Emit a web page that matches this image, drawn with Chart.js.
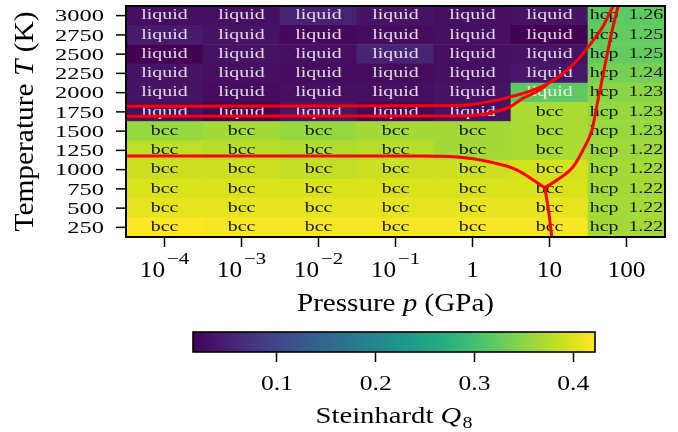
<!DOCTYPE html>
<html>
<head>
<meta charset="utf-8">
<script src="https://cdn.jsdelivr.net/npm/chart.js@4.4.1/dist/chart.umd.min.js"></script>
<style>
  html, body { margin: 0; padding: 0; background: #fff; overflow: hidden; }
  #wrap { position: relative; width: 678px; height: 432px; }
  #main { position: absolute; left: 0; top: 0; }
  #cbar { position: absolute; left: 0; top: 318px; }
</style>
</head>
<body>
<div id="wrap">
  <canvas id="main" width="678" height="318"></canvas>
  <canvas id="cbar" width="678" height="114"></canvas>
</div>
<script>
// ---- data ---------------------------------------------------------------
const pressureLabels = ['1e-4', '1e-3', '1e-2', '1e-1', '1', '10', '100']; // GPa
const tickBase = ['10', '10', '10', '10', '1', '10', '100'];
const tickExp  = ['\u22124', '\u22123', '\u22122', '\u22121', '', '', ''];
const temperatures = [250, 500, 750, 1000, 1250, 1500, 1750, 2000, 2250, 2500, 2750, 3000]; // K

// Steinhardt Q8 per temperature, one value per pressure column
const q8_250K  = [0.422, 0.418, 0.418, 0.418, 0.418, 0.418, 0.365];
const q8_500K  = [0.406, 0.406, 0.406, 0.406, 0.406, 0.406, 0.365];
const q8_750K  = [0.398, 0.398, 0.398, 0.398, 0.398, 0.398, 0.365];
const q8_1000K = [0.389, 0.389, 0.385, 0.389, 0.389, 0.394, 0.365];
const q8_1250K = [0.381, 0.377, 0.373, 0.377, 0.365, 0.369, 0.361];
const q8_1500K = [0.357, 0.365, 0.357, 0.365, 0.365, 0.369, 0.357];
const q8_1750K = [0.031, 0.019, 0.039, 0.023, 0.035, 0.369, 0.357];
const q8_2000K = [0.035, 0.027, 0.031, 0.031, 0.035, 0.320, 0.349];
const q8_2250K = [0.035, 0.031, 0.027, 0.027, 0.031, 0.039, 0.337];
const q8_2500K = [0.015, 0.035, 0.031, 0.056, 0.031, 0.035, 0.324];
const q8_2750K = [0.043, 0.035, 0.023, 0.027, 0.031, 0.015, 0.324];
const q8_3000K = [0.031, 0.031, 0.052, 0.035, 0.031, 0.035, 0.320];
const q8 = [q8_250K, q8_500K, q8_750K, q8_1000K, q8_1250K, q8_1500K,
            q8_1750K, q8_2000K, q8_2250K, q8_2500K, q8_2750K, q8_3000K];

// identified phase per cell
const solidRow = ['bcc', 'bcc', 'bcc', 'bcc', 'bcc', 'bcc', 'hcp'];
const mixedRow = ['liquid', 'liquid', 'liquid', 'liquid', 'liquid', 'bcc', 'hcp'];
const meltRow  = ['liquid', 'liquid', 'liquid', 'liquid', 'liquid', 'liquid', 'hcp'];
const phases = [solidRow, solidRow, solidRow, solidRow, solidRow, solidRow,
                mixedRow, meltRow, meltRow, meltRow, meltRow, meltRow];

// c/a ratio of the hcp cells (100 GPa column)
const hcpRatio = [1.22, 1.22, 1.22, 1.22, 1.22, 1.23, 1.23, 1.23, 1.24, 1.25, 1.25, 1.26];

const colorbarTicks = [0.1, 0.2, 0.3, 0.4];

// phase boundaries: log10(p / GPa) and T (K)
const meltUpperLogP = [-4.6, -2.0, -0.94, -0.12, 0.23, 0.49, 0.75, 0.97, 1.20, 1.40, 1.55, 1.69, 1.825, 1.87];
const meltUpperT    = [1822, 1826, 1830, 1836, 1885, 1945, 2021, 2112, 2268, 2463, 2657, 2852, 3125, 3220];
const meltLowerLogP = [-4.6, -0.9, -0.1, 0.2, 0.49, 0.66, 0.79, 0.90, 0.97];
const meltLowerT    = [1694, 1696, 1700, 1730, 1817, 1930, 1990, 2050, 2112];
const bccHcpLogP = [0.94, 1.136, 1.305, 1.435, 1.552, 1.617, 1.682, 1.747, 1.812, 1.890, 1.916];
const bccHcpT    = [765, 891, 1034, 1255, 1515, 1839, 2164, 2489, 2800, 3125, 3255];
const lowTLogP = [-4.6, -0.7, -0.2, 0.23, 0.58, 0.75, 0.94];
const lowTT    = [1177, 1177, 1165, 1099, 995, 891, 765];
const highPLogP = [0.94, 0.99, 1.03, 1.06];
const highPT    = [765, 450, 125, -100];

// ---- helpers --------------------------------------------------------------
const SERIF = '"Liberation Serif", "Times New Roman", serif';
const viridisStops = ['#440154', '#48186a', '#472d7b', '#424086', '#3b528b', '#33638d',
  '#2c728e', '#26828e', '#21918c', '#1fa088', '#28ae80', '#3fbc73', '#5ec962',
  '#84d44b', '#addc30', '#d8e219', '#fde725'];
function hexRgb(h) { return [1, 3, 5].map(i => parseInt(h.slice(i, i + 2), 16)); }
function viridis(t) {
  const n = viridisStops.length - 1;
  const s = Math.min(1, Math.max(0, t)) * n;
  const i = Math.min(Math.floor(s), n - 1), f = s - i;
  const a = hexRgb(viridisStops[i]), b = hexRgb(viridisStops[i + 1]);
  return 'rgb(' + a.map((v, k) => Math.round(v + (b[k] - v) * f)).join(',') + ')';
}
function fontOf(r) { return (r.style ? r.style + ' ' : '') + r.size + 'px ' + SERIF; }

// a sequence of text runs ({t, size, style, sx, dy, gap}) sharing one baseline
function runsWidth(ctx, runs) {
  let w = 0;
  for (const r of runs) {
    ctx.font = fontOf(r);
    w += (r.gap || 0) + ctx.measureText(r.t).width * (r.sx || 1);
  }
  return w;
}
function drawRuns(ctx, runs, x, y, align, color) {
  ctx.save();
  const w = runsWidth(ctx, runs);
  let cx = align === 'center' ? x - w / 2 : align === 'right' ? x - w : x;
  ctx.fillStyle = color || '#000';
  ctx.textAlign = 'left';
  ctx.textBaseline = 'alphabetic';
  for (const r of runs) {
    ctx.font = fontOf(r);
    cx += r.gap || 0;
    const sx = r.sx || 1;
    const adv = ctx.measureText(r.t).width * sx;
    ctx.save();
    ctx.translate(cx, y + (r.dy || 0));
    ctx.scale(sx, 1);
    ctx.fillText(r.t, 0, 0);
    ctx.restore();
    cx += adv;
  }
  ctx.restore();
}
function fitRuns(ctx, runs, target) {
  ctx.save();
  const k = target / runsWidth(ctx, runs);
  ctx.restore();
  return runs.map(r => Object.assign({}, r, { sx: (r.sx || 1) * k, gap: (r.gap || 0) * k }));
}

const allQ = q8.flat();
const qMin = Math.min(...allQ), qMax = Math.max(...allQ);
const tStep = temperatures[1] - temperatures[0];

// ---- heat map ---------------------------------------------------------------
const cellSets = temperatures.map((T, r) => ({
  type: 'bar',
  label: T + ' K',
  data: pressureLabels.map(() => [T - tStep / 2, T + tStep / 2]),
  backgroundColor: q8[r].map(v => viridis((v - qMin) / (qMax - qMin))),
  borderWidth: 0,
  barPercentage: 1,
  categoryPercentage: 1,
  grouped: false,
  order: 2
}));

const boundarySets = [
  [meltUpperLogP, meltUpperT], [meltLowerLogP, meltLowerT],
  [bccHcpLogP, bccHcpT], [lowTLogP, lowTT], [highPLogP, highPT]
].map(([ps, ts]) => ({
  type: 'line',
  xAxisID: 'xl',
  data: ps.map((p, i) => ({ x: p, y: ts[i] })),
  borderColor: '#ff0000',
  borderWidth: 3,
  pointRadius: 0,
  fill: false,
  cubicInterpolationMode: 'monotone',
  clip: 0,
  order: 1
}));

function drawCellText(chart) {
  const ctx = chart.ctx;
  temperatures.forEach((T, r) => {
    const meta = chart.getDatasetMeta(r);
    pressureLabels.forEach((p, c) => {
      const el = meta.data[c];
      const cx = el.x, cy = (el.y + el.base) / 2;
      const ph = phases[r][c];
      const txt = ph === 'hcp' ? 'hcp  ' + hcpRatio[r].toFixed(2) : ph;
      const col = ph === 'liquid' ? 'rgba(255,255,255,0.85)' : 'rgba(0,0,0,0.9)';
      drawRuns(ctx, [{ t: txt, size: 14, sx: 1.42 }], cx, cy + 3.8, 'center', col);
    });
  });
}

const heatText = {
  id: 'heatText',
  beforeDatasetsDraw(chart) { chart.$cellTextDone = false; },
  beforeDatasetDraw(chart, args) {
    if (args.meta.type === 'line' && !chart.$cellTextDone) {
      drawCellText(chart);
      chart.$cellTextDone = true;
    }
  },
  afterDatasetsDraw(chart) {
    if (!chart.$cellTextDone) { drawCellText(chart); chart.$cellTextDone = true; }
  }
};

const axisDecor = {
  id: 'axisDecor',
  afterDraw(chart) {
    const ctx = chart.ctx, a = chart.chartArea;
    const xs = chart.scales.x, ys = chart.scales.y;
    // frame
    ctx.save();
    ctx.strokeStyle = '#000';
    ctx.lineWidth = 2;
    ctx.strokeRect(a.left, a.top, a.right - a.left, a.bottom - a.top);
    // temperature tick marks and labels
    ctx.lineWidth = 1.5;
    temperatures.forEach(T => {
      const y = ys.getPixelForValue(T);
      ctx.beginPath();
      ctx.moveTo(a.left - 10, y);
      ctx.lineTo(a.left, y);
      ctx.stroke();
      ctx.save();
      ctx.font = fontOf({ size: 17.5 });
      ctx.fillStyle = '#000';
      ctx.textAlign = 'right';
      ctx.textBaseline = 'alphabetic';
      ctx.translate(a.left - 22, y + 5.8);
      ctx.scale(1.4, 1);
      ctx.fillText(String(T), 0, 0);
      ctx.restore();
    });
    ctx.restore();
    // pressure tick labels with exponents
    pressureLabels.forEach((p, i) => {
      const runs = [{ t: tickBase[i], size: 23, sx: 1.1 }];
      if (tickExp[i]) runs.push({ t: tickExp[i], size: 16, sx: 1.3, dy: -13, gap: 2 });
      drawRuns(ctx, runs, xs.getPixelForValue(i), 277, 'center');
    });
    // x title
    const xt = fitRuns(ctx, [
      { t: 'Pressure ', size: 25 }, { t: 'p', size: 25, style: 'italic' }, { t: ' (GPa)', size: 25 }
    ], 197);
    drawRuns(ctx, xt, (a.left + a.right) / 2, 311, 'center');
    // y title
    const yt = fitRuns(ctx, [
      { t: 'Temperature ', size: 27 }, { t: 'T', size: 27, style: 'italic' }, { t: ' (K)', size: 27 }
    ], 220);
    ctx.save();
    ctx.translate(33, (a.top + a.bottom) / 2);
    ctx.rotate(-Math.PI / 2);
    drawRuns(ctx, yt, 0, 0, 'center');
    ctx.restore();
  }
};

new Chart(document.getElementById('main'), {
  type: 'bar',
  data: { labels: pressureLabels, datasets: [...cellSets, ...boundarySets] },
  options: {
    responsive: false,
    animation: false,
    events: [],
    layout: { padding: { top: 6, right: 13, left: 0, bottom: 0 } },
    plugins: { legend: { display: false }, tooltip: { enabled: false } },
    scales: {
      x: {
        type: 'category',
        offset: true,
        border: { display: false },
        grid: { offset: false, drawOnChartArea: false, drawTicks: true, tickLength: 10, tickColor: '#000', tickWidth: 1.5 },
        ticks: { display: false },
        afterFit: s => { s.height = 81; }
      },
      xl: { type: 'linear', display: false, offset: false, min: -4.5, max: 2.5 },
      y: {
        type: 'linear',
        min: temperatures[0] - tStep / 2,
        max: temperatures[temperatures.length - 1] + tStep / 2,
        border: { display: false },
        grid: { display: false },
        ticks: { display: false },
        afterBuildTicks: s => { s.ticks = temperatures.map(v => ({ value: v })); },
        afterFit: s => { s.width = 126; }
      }
    }
  },
  plugins: [heatText, axisDecor]
});

// ---- colour bar ---------------------------------------------------------------
const colorbarDecor = {
  id: 'colorbarDecor',
  beforeDatasetsDraw(chart) {
    const ctx = chart.ctx, a = chart.chartArea, xs = chart.scales.x;
    const x0 = xs.getPixelForValue(qMin), x1 = xs.getPixelForValue(qMax);
    const g = ctx.createLinearGradient(x0, 0, x1, 0);
    viridisStops.forEach((c, i) => g.addColorStop(i / (viridisStops.length - 1), c));
    ctx.save();
    ctx.fillStyle = g;
    ctx.fillRect(x0, a.top, x1 - x0, a.bottom - a.top);
    ctx.restore();
  },
  afterDraw(chart) {
    const ctx = chart.ctx, a = chart.chartArea, xs = chart.scales.x;
    ctx.save();
    ctx.strokeStyle = '#000';
    ctx.lineWidth = 1.6;
    ctx.strokeRect(a.left, a.top, a.right - a.left, a.bottom - a.top);
    ctx.restore();
    colorbarTicks.forEach(v => {
      drawRuns(ctx, [{ t: v.toFixed(1), size: 20, sx: 1.28 }], xs.getPixelForValue(v), 71.6, 'center');
    });
    const ct = fitRuns(ctx, [
      { t: 'Steinhardt ', size: 23 }, { t: 'Q', size: 23, style: 'italic' }, { t: '8', size: 16, dy: 4.5, gap: 1 }
    ], 157);
    drawRuns(ctx, ct, (a.left + a.right) / 2, 105, 'center');
  }
};

new Chart(document.getElementById('cbar'), {
  type: 'scatter',
  data: { datasets: [{ data: [] }] },
  options: {
    responsive: false,
    animation: false,
    events: [],
    layout: { padding: { left: 193, right: 83, top: 14, bottom: 0 } },
    plugins: { legend: { display: false }, tooltip: { enabled: false } },
    scales: {
      x: {
        type: 'linear',
        min: qMin,
        max: qMax,
        border: { display: false },
        grid: { drawOnChartArea: false, drawTicks: true, tickLength: 10, tickColor: '#000', tickWidth: 1.5 },
        ticks: { display: false },
        afterBuildTicks: s => { s.ticks = colorbarTicks.map(v => ({ value: v })); },
        afterFit: s => { s.height = 80; }
      },
      y: { display: false, min: 0, max: 1 }
    }
  },
  plugins: [colorbarDecor]
});
</script>
</body>
</html>
